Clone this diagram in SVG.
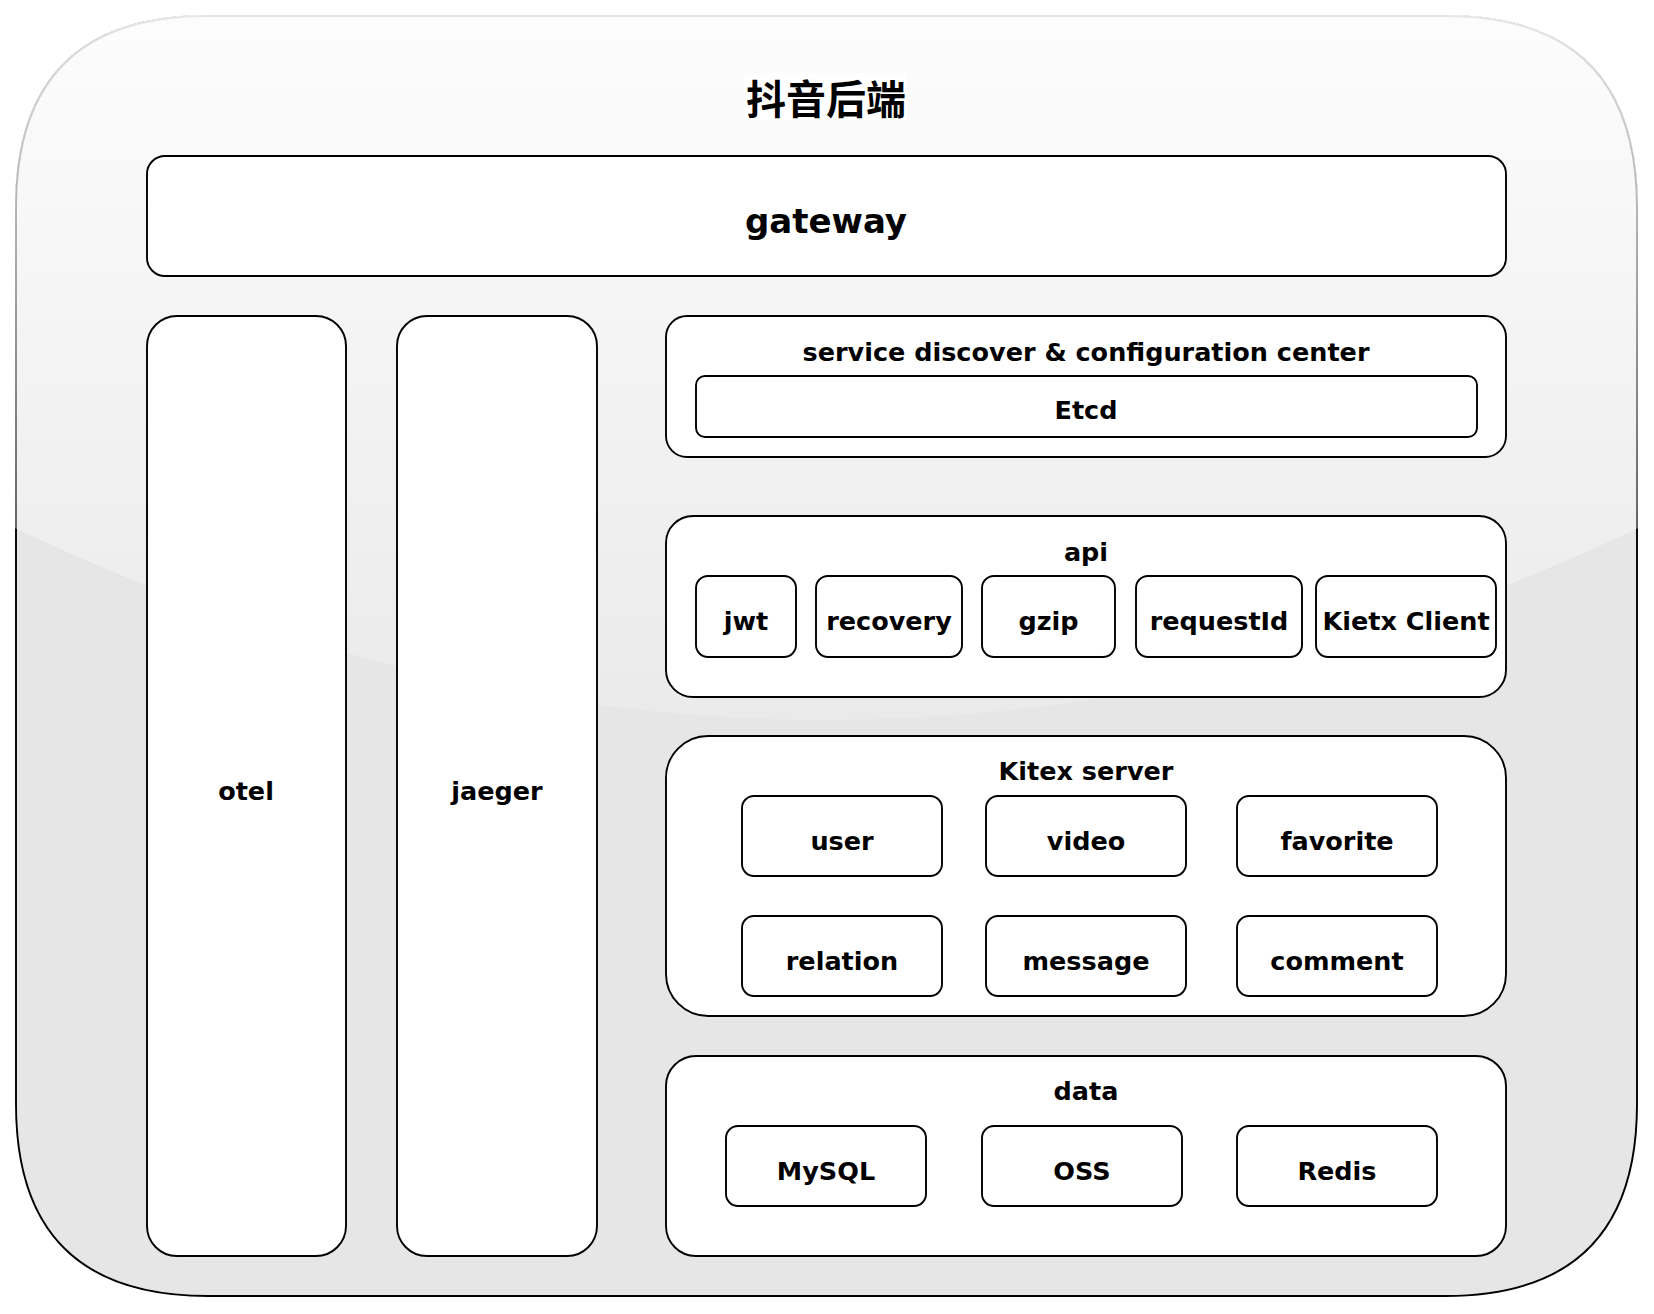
<svg xmlns="http://www.w3.org/2000/svg" width="1654" height="1314" viewBox="0 0 1654 1314">
<defs>
<linearGradient id="glass" x1="0" y1="16" x2="0" y2="784" gradientUnits="userSpaceOnUse">
<stop offset="0" stop-color="#ffffff" stop-opacity="0.9"/>
<stop offset="1" stop-color="#ffffff" stop-opacity="0.1"/>
</linearGradient>
<style>
.box{fill:#ffffff;stroke:#000000;stroke-width:1.9}
.lbl{font-family:"DejaVu Sans",sans-serif;font-weight:bold;font-size:25.5px;fill:#000000;text-anchor:middle}
.big{font-size:34px}
.cjk{font-family:"Noto Sans CJK SC",sans-serif;font-weight:bold;font-size:40px;fill:#000000;text-anchor:middle}
</style>
</defs>
<g id="container">
<path d="M 208 16 L 1445 16 Q 1637 16 1637 208 L 1637 1104 Q 1637 1296 1445 1296 L 208 1296 Q 16 1296 16 1104 L 16 208 Q 16 16 208 16 Z" fill="#e6e6e6" stroke="#000000" stroke-width="1.9"/>
<path d="M 209 14.5 Q 14.5 14.5 14.5 209 L 14.5 528 Q 826.5 912 1638.5 528 L 1638.5 209 Q 1638.5 14.5 1444 14.5 Z" fill="url(#glass)"/>
<rect x="744" y="73" width="163" height="47" fill="#ffffff"/>
<text class="cjk" x="826" y="114">抖音后端</text>
</g>
<g id="gateway">
<rect class="box" x="147" y="156" width="1359" height="120" rx="18"/>
<text class="lbl big" x="826" y="233">gateway</text>
</g>
<g id="otel">
<rect class="box" x="147" y="316" width="199" height="940" rx="30"/>
<text class="lbl" x="246" y="800">otel</text>
</g>
<g id="jaeger">
<rect class="box" x="397" y="316" width="200" height="940" rx="30"/>
<text class="lbl" x="497" y="800">jaeger</text>
</g>
<g id="service-discover">
<rect class="box" x="666" y="316" width="840" height="141" rx="21"/>
<text class="lbl" x="1086" y="361">service discover &amp; configuration center</text>
</g>
<g id="etcd">
<rect class="box" x="696" y="376" width="781" height="61" rx="9"/>
<text class="lbl" x="1086" y="419">Etcd</text>
</g>
<g id="api">
<rect class="box" x="666" y="516" width="840" height="181" rx="27"/>
<text class="lbl" x="1086" y="561">api</text>
</g>
<g id="jwt">
<rect class="box" x="696" y="576" width="100" height="81" rx="12"/>
<text class="lbl" x="746" y="630">jwt</text>
</g>
<g id="recovery">
<rect class="box" x="816" y="576" width="146" height="81" rx="12"/>
<text class="lbl" x="889" y="630">recovery</text>
</g>
<g id="gzip">
<rect class="box" x="982" y="576" width="133" height="81" rx="12"/>
<text class="lbl" x="1048.5" y="630">gzip</text>
</g>
<g id="requestId">
<rect class="box" x="1136" y="576" width="166" height="81" rx="12"/>
<text class="lbl" x="1219" y="630">requestId</text>
</g>
<g id="kietx-client">
<rect class="box" x="1316" y="576" width="180" height="81" rx="12"/>
<text class="lbl" x="1406" y="630">Kietx Client</text>
</g>
<g id="kitex-server">
<rect class="box" x="666" y="736" width="840" height="280" rx="42"/>
<text class="lbl" x="1086" y="780">Kitex server</text>
</g>
<g id="user">
<rect class="box" x="742" y="796" width="200" height="80" rx="12"/>
<text class="lbl" x="842" y="850">user</text>
</g>
<g id="video">
<rect class="box" x="986" y="796" width="200" height="80" rx="12"/>
<text class="lbl" x="1086" y="850">video</text>
</g>
<g id="favorite">
<rect class="box" x="1237" y="796" width="200" height="80" rx="12"/>
<text class="lbl" x="1337" y="850">favorite</text>
</g>
<g id="relation">
<rect class="box" x="742" y="916" width="200" height="80" rx="12"/>
<text class="lbl" x="842" y="970">relation</text>
</g>
<g id="message">
<rect class="box" x="986" y="916" width="200" height="80" rx="12"/>
<text class="lbl" x="1086" y="970">message</text>
</g>
<g id="comment">
<rect class="box" x="1237" y="916" width="200" height="80" rx="12"/>
<text class="lbl" x="1337" y="970">comment</text>
</g>
<g id="data">
<rect class="box" x="666" y="1056" width="840" height="200" rx="30"/>
<text class="lbl" x="1086" y="1100">data</text>
</g>
<g id="mysql">
<rect class="box" x="726" y="1126" width="200" height="80" rx="12"/>
<text class="lbl" x="826" y="1180">MySQL</text>
</g>
<g id="oss">
<rect class="box" x="982" y="1126" width="200" height="80" rx="12"/>
<text class="lbl" x="1082" y="1180">OSS</text>
</g>
<g id="redis">
<rect class="box" x="1237" y="1126" width="200" height="80" rx="12"/>
<text class="lbl" x="1337" y="1180">Redis</text>
</g>
<g id="connectors"></g>
</svg>
